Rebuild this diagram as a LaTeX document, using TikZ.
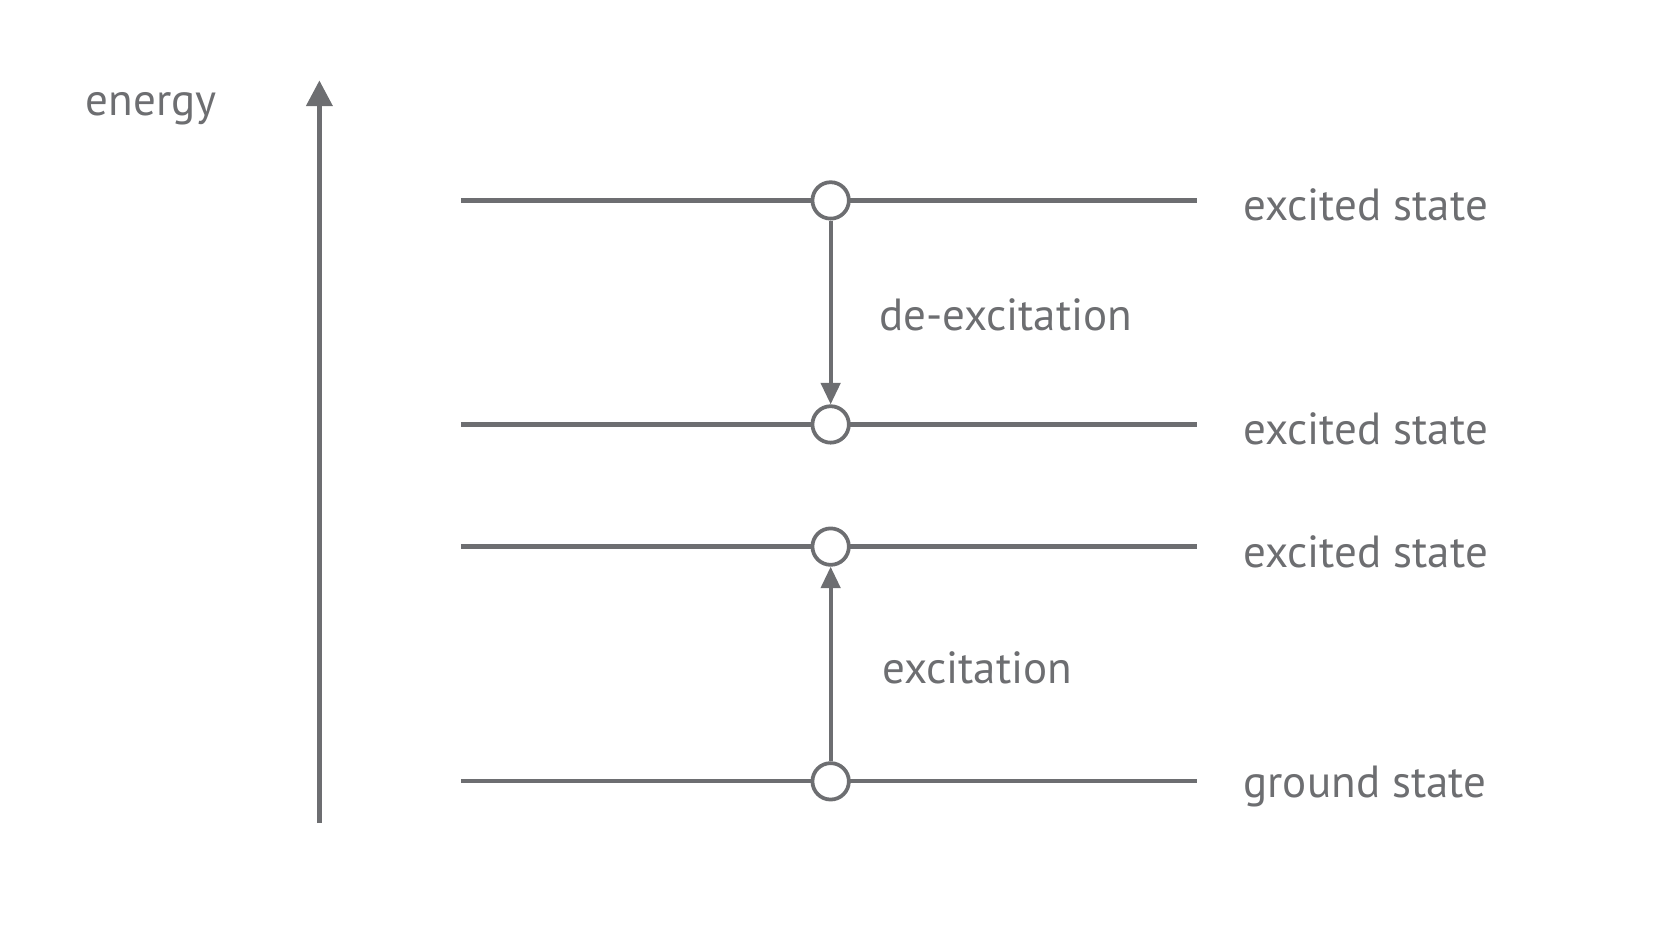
\documentclass[tikz,border=0pt]{standalone}
\usepackage{fontspec}
\setmainfont{PT Sans}
\usetikzlibrary{arrows.meta}
\definecolor{g}{HTML}{6D6E71}
\begin{document}
\begin{tikzpicture}[x=1pt,y=-1pt,
  lvl/.style={line width=4pt,draw=g},
  st/.style={circle,draw=g,line width=3.5pt,fill=white,minimum size=34pt,inner sep=0pt},
  lab/.style={anchor=west,text=g,font=\fontsize{42}{46}\selectfont,inner sep=0pt},
  arr/.style={line width=3.5pt,draw=g,-{Triangle[length=20pt,width=18pt]}}]
\useasboundingbox (0,0) rectangle (1560,878);
\node[lab] (en) at (80,101) {energy};
\coordinate (ab) at (298,768);
\coordinate (at) at (298,75);
\draw[arr,line width=4.5pt,-{Triangle[length=24pt,width=24pt]}] (ab) -- (at);
\foreach \n/\y in {a/187,b/396,c/510,d/729}{
  \coordinate (\n l) at (430,\y);
  \coordinate (\n r) at (1117,\y);
  \draw[lvl] (\n l) -- (\n r);
  \node[st] (\n) at (775,\y) {};
}
\node[lab] (la) at (1160,191) {excited state};
\node[lab] (lb) at (1160,400) {excited state};
\node[lab] (lc) at (1160,515) {excited state};
\node[lab] (ld) at (1160,734) {ground state};
\draw[arr] (a) -- (b);
\draw[arr] (d) -- (c);
\node[lab] (de) at (820,294) {de-excitation};
\node[lab] (ex) at (823,623) {excitation};
\end{tikzpicture}
\end{document}
